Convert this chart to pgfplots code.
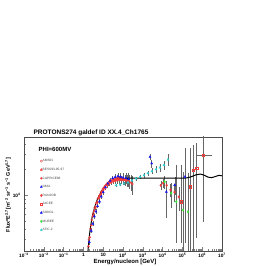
\documentclass[border=0pt]{standalone}
\usepackage{fontspec}
\setmainfont{Liberation Sans}
\usepackage{pgfplots}
\pgfplotsset{compat=1.18}
\definecolor{rred}{RGB}{245,60,60}
\definecolor{rblue}{RGB}{20,20,240}
\definecolor{rgreen}{RGB}{60,230,60}
\definecolor{rcyan}{RGB}{40,210,210}
\begin{document}
\begin{tikzpicture}[x=1pt,y=1pt]
\path[use as bounding box] (0,0) rectangle (266,266);
\begin{axis}[
  at={(24pt,15pt)}, anchor=south west,
  width=198pt, height=114pt, scale only axis,
  xmode=log, ymode=log,
  xmin=1e-3, xmax=1e7, ymin=2200, ymax=48000,
  xtick={1e-3,1e-2,1e-1,1,10,100,1000,1e4,1e5,1e6,1e7},
  xticklabels={10\textsuperscript{−3},10\textsuperscript{−2},10\textsuperscript{−1},1,10,10\textsuperscript{2},10\textsuperscript{3},10\textsuperscript{4},10\textsuperscript{5},10\textsuperscript{6},10\textsuperscript{7}},
  ytick={1e4}, yticklabels={10\textsuperscript{4}},
  minor ytick={3000,4000,5000,6000,7000,8000,9000,20000,30000,40000},
  xtick pos=bottom, ytick pos=left, tick align=inside,
  major tick length=4pt, minor tick length=2pt,
  tick label style={font=\fontsize{4.8}{5}\selectfont\bfseries},
  xticklabel style={yshift=1pt},
  axis line style={black!70, line width=0.5pt},
  clip=true,
  legend style={at={(rel axis cs:0.081,0.805)}, anchor=north west, draw=none, fill=none,
    font=\fontsize{3.2}{3.5}\selectfont, row sep=5.2pt, inner sep=0pt,
    nodes={inner sep=0.3pt, text height=2.2pt, text depth=0.6pt, text=black!75}},
  legend cell align=left,
  legend image code/.code={\draw[mark repeat=2,mark phase=2,#1] plot coordinates {(0pt,0pt)(2pt,0pt)(4pt,0pt)};},
  error bars/error bar style={black!60, line width=0.35pt},
  error bars/error mark=none,
]
% AMS01
\addplot[only marks, mark=o, mark size=1.1pt, rred, line width=0.4pt] coordinates {
(1.9,3000)(2.3,4000)(2.7,5100)(3.2,6100)(3.8,7100)(4.5,8000)(5.5,9100)(6.5,9800)(8,10900)(10,11900)(12.5,12800)(16,13600)(20,14300)(25,14800)(32,15200)(40,15500)(50,15700)(63,15800)(80,15600)(100,15400)(130,15100)(160,14900)(200,14600)};
\addlegendentry{AMS01}
% BESS
\addplot[only marks, mark=triangle*, mark size=1.2pt, rred] coordinates {
(1.8,2500)(2.1,3200)(2.5,4400)(3,5600)(3.5,6500)(4.2,7300)(5,8300)(6,9300)(7,10000)(8.5,10900)(10,11700)(12,12500)(14,13100)(17,13700)(20,14100)(24,14500)(29,14800)(35,15000)(42,15100)(50,15200)(60,15300)(72,15200)(86,15100)(100,15000)(120,15100)};
\addlegendentry{BESS93-95-97}
% CAPRICE
\addplot[only marks, mark=*, mark size=0.9pt, rred,
  error bars/.cd, y dir=both, y explicit] coordinates {
(3.2,5800)+-(0,300)(4,7000)+-(0,350)(5,8100)+-(0,400)(6.3,9200)+-(0,450)(8,10300)+-(0,500)(10,11200)+-(0,550)(12.6,12000)+-(0,600)(16,12900)+-(0,700)(20,13500)+-(0,800)(25,13900)+-(0,900)(32,14300)+-(0,1000)(40,14600)+-(0,1100)(50,14800)+-(0,1300)(63,15000)+-(0,1500)(80,15100)+-(0,1700)(100,15000)+-(0,1900)(126,14900)+-(0,2100)(160,14700)+-(0,2400)(200,14400)+-(0,2700)(250,14000)+-(0,3000)(300,13500)+-(0,3400)};
\addlegendentry{CAPRICE98}
% IMAX
\addplot[only marks, mark=triangle*, mark size=1.2pt, rblue,
  error bars/.cd, y dir=both, y explicit] coordinates {
(2,2800)+-(0,200)(2.5,3800)+-(0,250)(3,4600)+-(0,300)(3.6,5600)+-(0,350)(4.3,6400)+-(0,400)(5.2,7400)+-(0,450)(6.5,8400)+-(0,500)(8,9600)+-(0,600)(10,10800)+-(0,700)(13,12300)+-(0,800)(17,13600)+-(0,900)(22,14700)+-(0,1000)(30,15700)+-(0,1100)(40,16200)+-(0,1300)(55,16600)+-(0,1500)(75,16400)+-(0,1700)(100,16000)+-(0,2000)(140,15800)+-(0,2400)(190,15400)+-(0,2900)};
\addlegendentry{IMAX}
% RUNJOB
\addplot[only marks, mark=diamond*, mark size=1.2pt, rred,
  error bars/.cd, y dir=both, y explicit] coordinates {
(8e3,13000)+-(0,1500)(1.05e4,13800)+-(0,1600)(1.6e4,13000)+-(0,1800)(2.5e4,11500)+-(0,2000)(4e4,10800)+-(0,2500)(6.5e4,9500)+-(0,3000)};
\addlegendentry{RUNJOB}
% JACEE
\addplot[only marks, mark=square, mark size=1.1pt, rred, line width=0.4pt,
  error bars/.cd, y dir=both, y explicit, x dir=both, x explicit] coordinates {
(1.14e6,29500) += (1.86e6,80000) -= (6.2e5,24650)
(5.25e5,20600) += (0,20300) -= (0,17480)
(3.56e5,19700) += (0,19000) -= (0,18700)
(2.42e5,12500) += (0,23200) -= (0,11500)
(8.7e4,8340) += (0,14200) -= (0,5620)};
\addlegendentry{JACEE}
% SOKOL
\addplot[only marks, mark=triangle*, mark size=1.2pt, rblue,
  error bars/.cd, y dir=both, y explicit] coordinates {
(2.3e3,28000) +- (0,2500)
(2.8e3,23500) +- (0,2500)
(1.55e4,10900) += (0,3400) -= (0,5580)
(4.1e4,13100) +- (0,3000)
(1.35e5,16400) += (0,19300) -= (0,13680)};
\addlegendentry{SOKOL}
% MUBEE
\addplot[only marks, mark=diamond*, mark size=1.2pt, rgreen,
  error bars/.cd, y dir=both, y explicit] coordinates {
(1.26e4,14300) +- (0,2500)
(2.75e4,10500) +- (0,3500)
(4.9e4,8340) += (0,14200) -= (0,5600)
(1.07e5,6660) += (0,12000) -= (0,6000)
(1.9e5,6360) += (0,12000) -= (0,6000)};
\addlegendentry{MUBEE}
% ATIC-2
\addplot[only marks, mark=triangle*, mark size=1.2pt, rcyan,
  error bars/.cd, y dir=both, y explicit] coordinates {
(45,13000)+-(0,500)(71,13300)+-(0,500)(112,13600)+-(0,600)(178,14000)+-(0,600)(282,14800)+-(0,700)(457,15600)+-(0,800)(724,16300)+-(0,900)(1150,17000)+-(0,1000)(1820,18000)+-(0,1200)(2880,19000)+-(0,1500)(4680,20000)+-(0,1800)(7410,21000)+-(0,2200)(1.17e4,22500)+-(0,2800)(1.86e4,26000)+-(0,4000)};
\addlegendentry{ATIC-2}
% model curve
\addplot[black, line width=1pt, smooth, forget plot] coordinates {
(1.7,2200)(2,3300)(2.5,4800)(3,6000)(4,7600)(5,8800)(6.5,10000)(8,11000)(10,12000)(13,13000)(17,13900)(22,14600)(30,15100)(40,15400)(60,15600)(100,15700)(1e3,15800)(1e4,15800)(1e5,15800)(1.7e5,15900)(3e5,16500)(5e5,17300)(8e5,17600)(1.3e6,17000)(2e6,16200)(3e6,16000)(5e6,16600)(7e6,17000)(1e7,16800)};
\end{axis}
\node[font=\fontsize{6.5}{7}\selectfont\bfseries] at (91,133) {PROTONS274 galdef ID XX.4\_Ch1765};
\node[font=\fontsize{6}{7}\selectfont\bfseries] at (55,117) {PHI=600MV};
\node[font=\fontsize{6}{7}\selectfont\bfseries] at (125,4) {Energy/nucleon [GeV]};
\node[font=\fontsize{5.4}{6}\selectfont\bfseries, rotate=90] at (8,71) {Flux*E\textsuperscript{2.7}[m\textsuperscript{−2} sr\textsuperscript{−1} s\textsuperscript{−1} GeV\textsuperscript{1.7}]};
\end{tikzpicture}
\end{document}
